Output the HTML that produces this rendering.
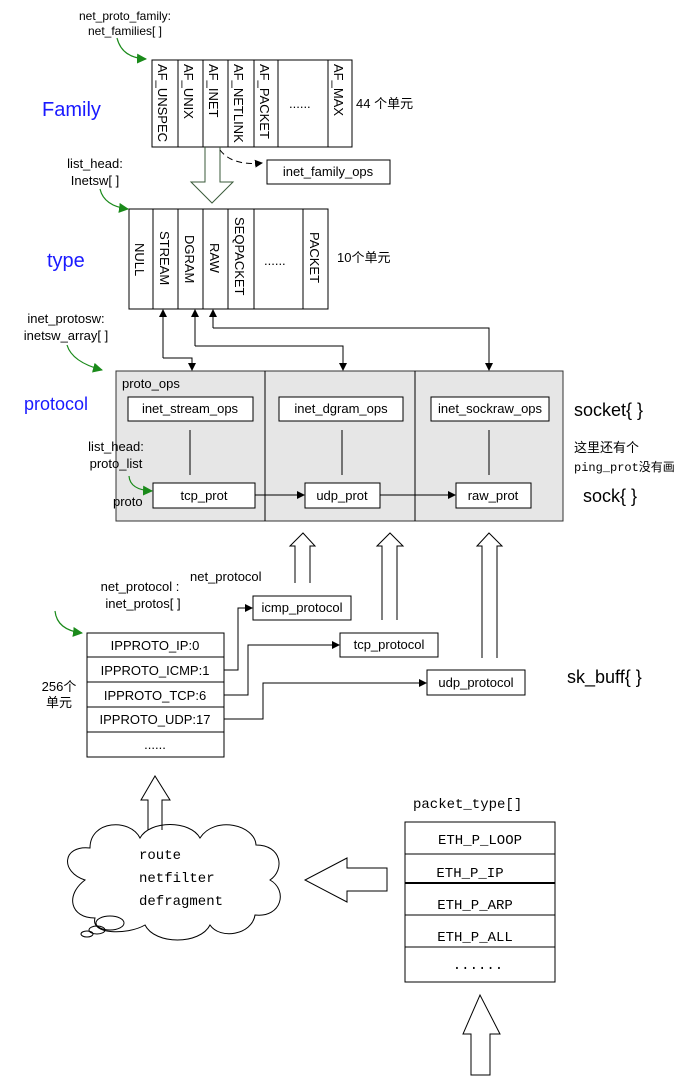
<!DOCTYPE html>
<html><head><meta charset="utf-8"><style>
body{margin:0;background:#fff}
svg{display:block}
text{font-family:"Liberation Sans","Noto Sans CJK SC",sans-serif;font-size:13px;fill:#000}
.m{font-family:"Liberation Mono","DejaVu Sans Mono","Noto Sans CJK SC",monospace;font-size:14px}
.v{font-size:13px}
</style></head><body>
<svg width="700" height="1088" viewBox="0 0 700 1088" xmlns="http://www.w3.org/2000/svg">
<defs>
<marker id="a" markerWidth="8" markerHeight="8" refX="7" refY="4" orient="auto" markerUnits="userSpaceOnUse"><path d="M0,0 L8,4 L0,8 z" fill="#000"/></marker>
<marker id="g" markerWidth="10" markerHeight="10" refX="9" refY="5" orient="auto" markerUnits="userSpaceOnUse"><path d="M0,0 L10,5 L0,10 z" fill="#1a8a1a"/></marker>
</defs>
<g stroke="#000" fill="none" stroke-width="1">
<rect x="152" y="60" width="200" height="87" fill="#fff"/>
<path d="M178,60V147M203,60V147M228,60V147M254,60V147M278,60V147M328,60V147"/>
<rect x="129" y="209" width="199" height="100" fill="#fff"/>
<path d="M153,209V309M178,209V309M203,209V309M228,209V309M254,209V309M303,209V309"/>
<path d="M205,147V182H191L212,203L233,182H220V147" stroke="#3a5a3a"/>
<rect x="267" y="160" width="123" height="24"/>
<path d="M220,150 Q232,166 262,163" stroke-dasharray="6,4" marker-end="url(#a)"/>
<rect x="116" y="371" width="447" height="150" fill="#e6e6e6" stroke="#333"/>
<path d="M265,371V521M415,371V521"/>
<rect x="128" y="397" width="125" height="24" fill="#fff"/>
<rect x="279" y="397" width="124" height="24" fill="#fff"/>
<rect x="431" y="397" width="118" height="24" fill="#fff"/>
<path d="M190,430V475M342,430V475M489,430V475"/>
<rect x="153" y="483" width="102" height="25" fill="#fff"/>
<rect x="305" y="483" width="75" height="25" fill="#fff"/>
<rect x="456" y="483" width="75" height="25" fill="#fff"/>
<path d="M255,495H304" marker-end="url(#a)"/>
<path d="M380,495H455" marker-end="url(#a)"/>
<path d="M163,358V310" marker-end="url(#a)"/>
<path d="M163,358H192V370" marker-end="url(#a)"/>
<path d="M195,346V310" marker-end="url(#a)"/>
<path d="M195,346H343V370" marker-end="url(#a)"/>
<path d="M213,328V310" marker-end="url(#a)"/>
<path d="M213,328H489V370" marker-end="url(#a)"/>
<path d="M295,583V546H290L303,533L315,546H310V583"/>
<path d="M382,620V546H377L390,533L403,546H397V620"/>
<path d="M482,658V546H477L489,533L502,546H497V658"/>
<rect x="253" y="596" width="98" height="24"/>
<rect x="340" y="633" width="98" height="24"/>
<rect x="427" y="670" width="98" height="25"/>
<rect x="87" y="633" width="137" height="124"/>
<path d="M87,657H224M87,682H224M87,707H224M87,732H224"/>
<path d="M224,670H238V608H252" marker-end="url(#a)"/>
<path d="M224,695H248V645H339" marker-end="url(#a)"/>
<path d="M224,719H263V683H426" marker-end="url(#a)"/>
<path d="M148,830V800H141L155,776L170,800H162V830"/>
<path d="M85,880 C60,872 62,845 90,848 C90,820 130,818 140,838 C150,820 190,820 200,838 C215,815 255,825 256,845 C282,845 285,870 270,880 C288,890 282,918 255,915 C252,935 220,940 210,925 C200,945 155,945 145,925 C128,935 90,935 95,918 C70,918 65,895 85,880 Z"/>
<ellipse cx="110" cy="923" rx="14" ry="7"/>
<ellipse cx="97" cy="930" rx="8" ry="4"/>
<ellipse cx="87" cy="934" rx="6" ry="3"/>
<path d="M387,868H347V858L305,880L347,902V891H387Z"/>
<rect x="405" y="822" width="150" height="160"/>
<path d="M405,854H555M405,915H555M405,947H555"/>
<path d="M405,883H555" stroke-width="2"/>
<path d="M471,1075V1034H463L480,995L500,1034H490V1075Z"/>
</g>
<g stroke="#1a8a1a" fill="none" stroke-width="1.2">
<path d="M117,38 Q122,58 146,59" marker-end="url(#g)"/>
<path d="M100,189 Q104,206 128,209" marker-end="url(#g)"/>
<path d="M67,345 Q72,362 102,370" marker-end="url(#g)"/>
<path d="M55,611 Q57,630 82,633" marker-end="url(#g)"/>
<path d="M129,476 Q130,490 152,491" marker-end="url(#g)"/>
</g>
<text x="125" y="20" text-anchor="middle" style="font-size:12px">net_proto_family:</text>
<text x="125" y="35" text-anchor="middle" style="font-size:12px">net_families[ ]</text>
<text x="42" y="116" style="font-size:20px;fill:#1a1aff">Family</text>
<text x="356" y="108">44 个单元</text>
<g class="v">
<text transform="translate(158,64) rotate(90)">AF_UNSPEC</text>
<text transform="translate(184,64) rotate(90)">AF_UNIX</text>
<text transform="translate(209,64) rotate(90)">AF_INET</text>
<text transform="translate(234,64) rotate(90)">AF_NETLINK</text>
<text transform="translate(260,64) rotate(90)">AF_PACKET</text>
<text transform="translate(334,64) rotate(90)">AF_MAX</text>
<text transform="translate(135,243) rotate(90)">NULL</text>
<text transform="translate(160,231) rotate(90)">STREAM</text>
<text transform="translate(185,235) rotate(90)">DGRAM</text>
<text transform="translate(210,243) rotate(90)">RAW</text>
<text transform="translate(235,217) rotate(90)">SEQPACKET</text>
<text transform="translate(310,232) rotate(90)">PACKET</text>
</g>
<text x="289" y="108">......</text>
<text x="264" y="265">......</text>
<text x="328" y="176" text-anchor="middle">inet_family_ops</text>
<text x="95" y="168" text-anchor="middle">list_head:</text>
<text x="95" y="185" text-anchor="middle">Inetsw[ ]</text>
<text x="47" y="267" style="font-size:20px;fill:#1a1aff">type</text>
<text x="337" y="262">10个单元</text>
<text x="66" y="323" text-anchor="middle">inet_protosw:</text>
<text x="66" y="340" text-anchor="middle">inetsw_array[ ]</text>
<text x="24" y="410" style="font-size:18px;fill:#1a1aff">protocol</text>
<text x="122" y="388">proto_ops</text>
<text x="190" y="413" text-anchor="middle">inet_stream_ops</text>
<text x="341" y="413" text-anchor="middle">inet_dgram_ops</text>
<text x="490" y="413" text-anchor="middle">inet_sockraw_ops</text>
<text x="116" y="451" text-anchor="middle">list_head:</text>
<text x="116" y="468" text-anchor="middle">proto_list</text>
<text x="113" y="506">proto</text>
<text x="204" y="500" text-anchor="middle">tcp_prot</text>
<text x="342" y="500" text-anchor="middle">udp_prot</text>
<text x="493" y="500" text-anchor="middle">raw_prot</text>
<text x="574" y="416" style="font-size:18px">socket{ }</text>
<text x="574" y="452" style="font-size:13px">这里还有个</text>
<text x="574" y="471" class="m" style="font-size:12px">ping_prot没有画</text>
<text x="583" y="502" style="font-size:18px">sock{ }</text>
<text x="190" y="581">net_protocol</text>
<text x="140" y="591" text-anchor="middle">net_protocol :</text>
<text x="143" y="608" text-anchor="middle">inet_protos[ ]</text>
<text x="302" y="612" text-anchor="middle">icmp_protocol</text>
<text x="389" y="649" text-anchor="middle">tcp_protocol</text>
<text x="476" y="687" text-anchor="middle">udp_protocol</text>
<text x="567" y="683" style="font-size:18px">sk_buff{ }</text>
<text x="155" y="650" text-anchor="middle">IPPROTO_IP:0</text>
<text x="155" y="675" text-anchor="middle">IPPROTO_ICMP:1</text>
<text x="155" y="700" text-anchor="middle">IPPROTO_TCP:6</text>
<text x="155" y="724" text-anchor="middle">IPPROTO_UDP:17</text>
<text x="155" y="749" text-anchor="middle">......</text>
<text x="59" y="691" text-anchor="middle">256个</text>
<text x="59" y="707" text-anchor="middle">单元</text>
<text x="139" y="859" class="m">route</text>
<text x="139" y="882" class="m">netfilter</text>
<text x="139" y="905" class="m">defragment</text>
<text x="413" y="808" class="m">packet_type[]</text>
<text x="480" y="844" class="m" text-anchor="middle">ETH_P_LOOP</text>
<text x="470" y="877" class="m" text-anchor="middle">ETH_P_IP</text>
<text x="475" y="909" class="m" text-anchor="middle">ETH_P_ARP</text>
<text x="475" y="941" class="m" text-anchor="middle">ETH_P_ALL</text>
<text x="478" y="969" class="m" text-anchor="middle">......</text>
</svg>
</body></html>
